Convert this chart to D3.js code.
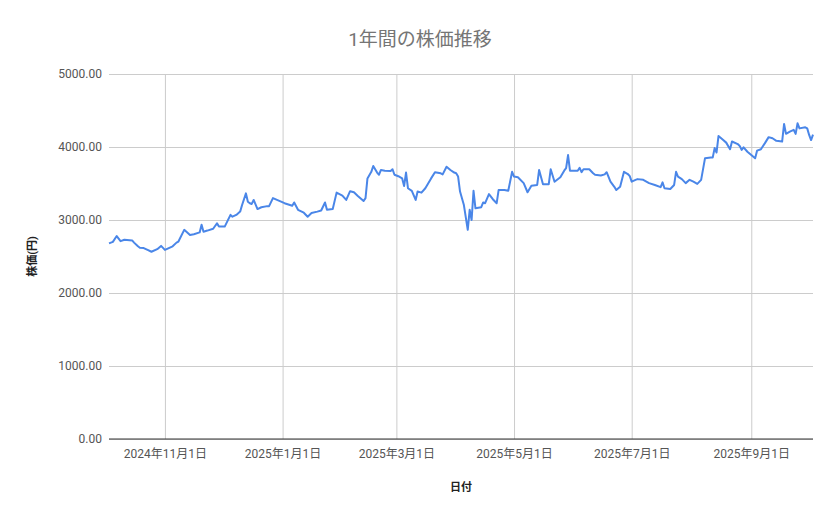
<!DOCTYPE html>
<html>
<head>
<meta charset="utf-8">
<script src="https://cdn.jsdelivr.net/npm/d3@7"></script>
<style>
  body { margin: 0; background: #fff; }
  #vis { width: 839px; height: 519px; }
  text { font-family: Roboto, "Noto Sans CJK JP", sans-serif; }
</style>
</head>
<body>
<div id="vis"></div>
<script>
// values
var dates = [
  "2024-10-03","2024-10-05","2024-10-07","2024-10-09","2024-10-11","2024-10-15","2024-10-16","2024-10-18","2024-10-19","2024-10-21",
  "2024-10-23","2024-10-25","2024-10-28","2024-10-30","2024-11-01","2024-11-03","2024-11-05","2024-11-07","2024-11-08","2024-11-11",
  "2024-11-14","2024-11-16","2024-11-19","2024-11-20","2024-11-21","2024-11-23","2024-11-26","2024-11-28","2024-11-29","2024-12-02",
  "2024-12-05","2024-12-06","2024-12-08","2024-12-10","2024-12-11","2024-12-13","2024-12-14","2024-12-15","2024-12-16","2024-12-17",
  "2024-12-19","2024-12-21","2024-12-24","2024-12-25","2024-12-27","2024-12-30","2025-01-02","2025-01-06","2025-01-07","2025-01-09",
  "2025-01-12","2025-01-14","2025-01-16","2025-01-19","2025-01-21","2025-01-23","2025-01-24","2025-01-27","2025-01-29","2025-02-01",
  "2025-02-03","2025-02-05","2025-02-07","2025-02-09","2025-02-12","2025-02-13","2025-02-14","2025-02-16","2025-02-17","2025-02-19",
  "2025-02-20","2025-02-21","2025-02-23","2025-02-26","2025-02-27","2025-02-28","2025-03-02","2025-03-04","2025-03-05","2025-03-06",
  "2025-03-07","2025-03-09","2025-03-11","2025-03-12","2025-03-14","2025-03-16","2025-03-17","2025-03-19","2025-03-21","2025-03-24",
  "2025-03-25","2025-03-27","2025-03-29","2025-03-31","2025-04-01","2025-04-02","2025-04-03","2025-04-05","2025-04-07","2025-04-08",
  "2025-04-09","2025-04-10","2025-04-11","2025-04-14","2025-04-15","2025-04-16","2025-04-18","2025-04-20","2025-04-22","2025-04-23",
  "2025-04-26","2025-04-28","2025-04-30","2025-05-01","2025-05-03","2025-05-06","2025-05-08","2025-05-10","2025-05-13","2025-05-14",
  "2025-05-16","2025-05-19","2025-05-20","2025-05-22","2025-05-25","2025-05-27","2025-05-28","2025-05-29","2025-05-30","2025-06-03",
  "2025-06-04","2025-06-05","2025-06-06","2025-06-09","2025-06-11","2025-06-12","2025-06-15","2025-06-17","2025-06-18","2025-06-20",
  "2025-06-22","2025-06-23","2025-06-25","2025-06-27","2025-06-29","2025-06-30","2025-07-01","2025-07-03","2025-07-04","2025-07-07",
  "2025-07-10","2025-07-13","2025-07-16","2025-07-17","2025-07-18","2025-07-21","2025-07-23","2025-07-24","2025-07-25","2025-07-27",
  "2025-07-29","2025-07-31","2025-08-02","2025-08-04","2025-08-06","2025-08-08","2025-08-11","2025-08-12","2025-08-13","2025-08-14",
  "2025-08-15","2025-08-17","2025-08-19","2025-08-21","2025-08-22","2025-08-25","2025-08-26","2025-08-27","2025-08-28","2025-08-30",
  "2025-09-01","2025-09-03","2025-09-04","2025-09-06","2025-09-08","2025-09-10","2025-09-12","2025-09-14","2025-09-17","2025-09-18",
  "2025-09-19","2025-09-21","2025-09-23","2025-09-24","2025-09-25","2025-09-26","2025-09-29","2025-09-30","2025-10-01","2025-10-02",
  "2025-10-03"
];
var prices = [
  2680,2700,2780,2710,2730,2720,2690,2640,2620,2615,
  2590,2565,2600,2645,2590,2615,2640,2690,2705,2865,
  2795,2805,2830,2935,2840,2855,2880,2955,2910,2910,
  3070,3045,3070,3115,3205,3365,3250,3230,3220,3275,
  3150,3175,3190,3190,3300,3265,3230,3195,3240,3140,
  3100,3045,3095,3115,3130,3240,3140,3150,3375,3335,
  3275,3395,3380,3330,3260,3300,3570,3660,3740,3650,
  3620,3685,3675,3670,3695,3620,3600,3570,3465,3650,
  3435,3400,3275,3390,3375,3435,3480,3570,3655,3640,
  3625,3730,3685,3650,3640,3595,3390,3205,2865,3140,
  3000,3400,3160,3175,3240,3230,3355,3285,3230,3410,
  3410,3400,3660,3595,3585,3505,3380,3470,3480,3685,
  3490,3490,3695,3525,3585,3675,3710,3890,3675,3675,
  3715,3655,3695,3695,3640,3620,3610,3625,3655,3525,
  3455,3410,3455,3660,3630,3600,3525,3550,3560,3550,
  3505,3480,3450,3515,3435,3425,3480,3660,3595,3560,
  3505,3550,3525,3495,3550,3845,3855,3855,3985,3925,
  4150,4105,4060,3970,4075,4040,4015,3960,3995,3935,
  3890,3845,3950,3970,4050,4135,4120,4085,4075,4315,
  4180,4210,4235,4180,4325,4255,4270,4255,4165,4095,
  4170
];
var xTicks = ["2024-11-01","2025-01-01","2025-03-01","2025-05-01","2025-07-01","2025-09-01"];
var yTicks = [0, 1000, 2000, 3000, 4000, 5000];

var W = 839, H = 519;
var margin = {top: 74, right: 26, bottom: 80, left: 109};

var parse = d3.timeParse("%Y-%m-%d");
var data = dates.map(function(d, i) { return {date: parse(d), value: prices[i]}; });

var svg = d3.select("#vis").append("svg")
  .attr("width", W)
  .attr("height", H);

svg.append("rect").attr("width", W).attr("height", H).attr("fill", "#fff");

var x = d3.scaleTime()
  .domain(d3.extent(data, function(d) { return d.date; }))
  .range([margin.left, W - margin.right]);

var y = d3.scaleLinear()
  .domain([0, 5000])
  .range([H - margin.bottom, margin.top]);

// horizontal gridlines + labels
var yAxis = d3.axisLeft(y)
  .tickValues(yTicks)
  .tickSize(-(W - margin.left - margin.right))
  .tickPadding(7)
  .tickFormat(d3.format(".2f"));

var gy = svg.append("g")
  .attr("transform", "translate(" + margin.left + ",0)")
  .call(yAxis);
gy.select(".domain").remove();
gy.selectAll(".tick line").attr("stroke", "#cccccc");
gy.selectAll(".tick text")
  .attr("fill", "#555")
  .style("font-size", "12px");

// vertical gridlines + date labels
var xAxis = d3.axisBottom(x)
  .tickValues(xTicks.map(parse))
  .tickSize(-(H - margin.top - margin.bottom))
  .tickPadding(10)
  .tickFormat(function(d) { return d.getFullYear() + "年" + (d.getMonth() + 1) + "月" + d.getDate() + "日"; });

var gx = svg.append("g")
  .attr("transform", "translate(0," + (H - margin.bottom) + ")")
  .call(xAxis);
gx.select(".domain").remove();
gx.selectAll(".tick line").attr("stroke", "#cccccc");
gx.selectAll(".tick text")
  .attr("fill", "#555")
  .style("font-size", "12px");

// zero baseline
svg.append("line")
  .attr("x1", margin.left)
  .attr("x2", W - margin.right)
  .attr("y1", y(0))
  .attr("y2", y(0))
  .attr("stroke", "#333")
  .attr("stroke-width", 1);

// price line
var line = d3.line()
  .x(function(d) { return x(d.date); })
  .y(function(d) { return y(d.value); });

svg.append("path")
  .datum(data)
  .attr("d", line)
  .attr("fill", "none")
  .attr("stroke", "#4a86e8")
  .attr("stroke-width", 2)
  .attr("stroke-linejoin", "round");

// titles
svg.append("text")
  .attr("x", 420)
  .attr("y", 46)
  .attr("text-anchor", "middle")
  .attr("fill", "#757575")
  .style("font-size", "19px")
  .text("1年間の株価推移");

svg.append("text")
  .attr("x", (margin.left + W - margin.right) / 2)
  .attr("y", 491)
  .attr("text-anchor", "middle")
  .attr("fill", "#222")
  .style("font-size", "11px")
  .style("font-weight", "bold")
  .text("日付");

svg.append("text")
  .attr("transform", "translate(36," + ((margin.top + H - margin.bottom) / 2) + ") rotate(-90)")
  .attr("text-anchor", "middle")
  .attr("fill", "#222")
  .style("font-size", "11px")
  .style("font-weight", "bold")
  .text("株価(円)");
</script>
</body>
</html>
